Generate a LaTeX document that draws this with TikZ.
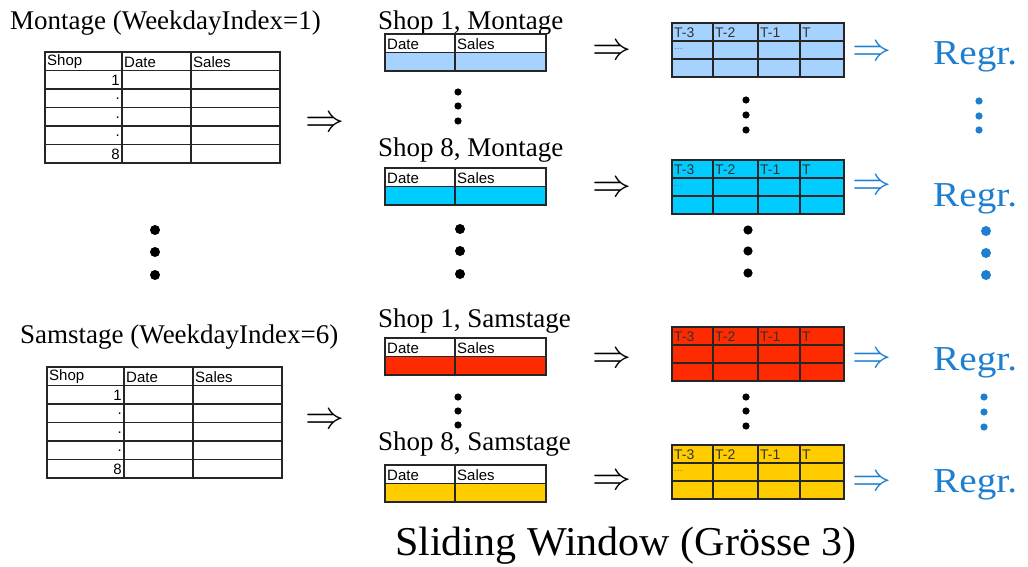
\documentclass[tikz,border=0pt]{standalone}
\usepackage{fontspec}
\setmainfont{Liberation Serif}
\setsansfont{Liberation Sans}
\definecolor{lblue}{HTML}{A6D2FF}
\definecolor{cyanb}{HTML}{00CCFF}
\definecolor{redb}{HTML}{FF2B00}
\definecolor{yelb}{HTML}{FFCC00}
\definecolor{regr}{HTML}{1E7FD0}
\definecolor{hdrtxt}{HTML}{333333}
\tikzset{
  grid/.style={line width=1.4pt, draw=black!85},
  title/.style={anchor=base west, inner sep=0pt, font=\fontsize{27}{30}\selectfont},
  regrtxt/.style={anchor=base west, inner sep=0pt, text=regr, xscale=1.12, font=\fontsize{35}{38}\selectfont},
  cell/.style={anchor=west, inner sep=0pt, font=\sffamily\fontsize{15}{17}\selectfont},
  rcell/.style={anchor=west, inner sep=0pt, text=hdrtxt, font=\sffamily\fontsize{14}{15}\selectfont},
  num/.style={anchor=east, inner sep=0pt, font=\sffamily\fontsize{15}{17}\selectfont},
  bigarrow/.style={inner sep=0pt, scale=3.9, font=\normalsize},
}
% left table: x0 y0 name
\newcommand{\lefttab}[3]{%
  \begin{scope}[shift={(#1,#2)}]
    \draw[grid] (0,0) rectangle (235,111);
    \foreach \yy in {18.5,37,55.5,74,92.5} \draw[grid] (0,\yy) -- (235,\yy);
    \draw[grid] (77,0) -- (77,111);
    \draw[grid] (146,0) -- (146,111);
    \node[cell] (#3h1) at (2,10) {Shop};
    \node[cell] (#3h2) at (79,10) {Date};
    \node[cell] (#3h3) at (148,10) {Sales};
    \node[num] (#3r1) at (75,28.5) {1};
    \node[num] (#3r2) at (75,47) {.};
    \node[num] (#3r3) at (75,65.5) {.};
    \node[num] (#3r4) at (75,84) {.};
    \node[num] (#3r5) at (75,102.5) {8};
  \end{scope}}
% middle table: y0 colour name
\newcommand{\midtab}[3]{%
  \begin{scope}[shift={(385,#1)}]
    \fill[#2] (0,18.5) rectangle (161,37);
    \draw[grid] (0,0) rectangle (161,37);
    \draw[grid] (0,18.5) -- (161,18.5);
    \draw[grid] (70,0) -- (70,37);
    \node[cell] (#3a) at (2,10) {Date};
    \node[cell] (#3b) at (72,10) {Sales};
  \end{scope}}
% right table: y0 colour name
\newcommand{\righttab}[3]{%
  \begin{scope}[shift={(672,#1)}]
    \fill[#2] (0,0) rectangle (172,54);
    \draw[grid] (0,0) rectangle (172,54);
    \draw[grid] (0,18) -- (172,18);
    \draw[grid] (0,36) -- (172,36);
    \foreach \xx in {41,86,128} \draw[grid] (\xx,0) -- (\xx,54);
    \node[rcell] (#3a) at (2,10) {T-3};
    \node[rcell] (#3b) at (43,10) {T-2};
    \node[rcell] (#3c) at (88,10) {T-1};
    \node[rcell] (#3d) at (130,10) {T};
    \node[rcell, text=black!55, font=\sffamily\fontsize{10}{12}\selectfont] (#3e) at (2,26) {...};
  \end{scope}}
\newcommand{\threedots}[5]{% x y1 y2 y3 radius, colour via scope
  \fill (#1,#2) circle (#5);
  \fill (#1,#3) circle (#5);
  \fill (#1,#4) circle (#5);}
\begin{document}
\begin{tikzpicture}[x=1pt,y=-1pt]
\useasboundingbox (0,0) rectangle (1028,567);
\fill[white] (0,0) rectangle (1028,567);

% titles
\node[title] (t1) at (10,30) {Montage (WeekdayIndex=1)};
\node[title] (t2) at (20,343) {Samstage (WeekdayIndex=6)};
\node[title] (s1) at (378,30) {Shop 1, Montage};
\node[title] (s2) at (378,157) {Shop 8, Montage};
\node[title] (s3) at (378,327) {Shop 1, Samstage};
\node[title] (s4) at (378,450) {Shop 8, Samstage};
\node[anchor=base west, inner sep=0pt, xscale=1.025, font=\fontsize{41}{44}\selectfont] (sw) at (395,555) {Sliding Window (Grösse 3)};

% left tables
\lefttab{45}{52}{L1}
\lefttab{47}{367}{L2}

% middle tables
\midtab{34}{lblue}{M1}
\midtab{168}{cyanb}{M2}
\midtab{338}{redb}{M3}
\midtab{465}{yelb}{M4}

% right tables
\righttab{23}{lblue}{R1}
\righttab{160}{cyanb}{R2}
\righttab{327}{redb}{R3}
\righttab{445}{yelb}{R4}

% arrows
\node[bigarrow] (a1) at (325,124) {$\Rightarrow$};
\node[bigarrow] (a2) at (325,421) {$\Rightarrow$};
\node[bigarrow] (b1) at (612,52) {$\Rightarrow$};
\node[bigarrow] (b2) at (612,189) {$\Rightarrow$};
\node[bigarrow] (b3) at (612,360) {$\Rightarrow$};
\node[bigarrow] (b4) at (612,482) {$\Rightarrow$};
\node[bigarrow, text=regr] (c1) at (872,53) {$\Rightarrow$};
\node[bigarrow, text=regr] (c2) at (872,187) {$\Rightarrow$};
\node[bigarrow, text=regr] (c3) at (872,360) {$\Rightarrow$};
\node[bigarrow, text=regr] (c4) at (872,483) {$\Rightarrow$};

% Regr.
\node[regrtxt] (g1) at (933,65) {Regr.};
\node[regrtxt] (g2) at (933,206) {Regr.};
\node[regrtxt] (g3) at (933,370) {Regr.};
\node[regrtxt] (g4) at (933,492) {Regr.};

% dots
\threedots{155}{230}{252}{275}{5}
\threedots{458}{92}{106}{121}{3.6}
\threedots{460}{229}{251}{274}{5}
\threedots{458}{397}{411}{425}{3.6}
\threedots{746}{100}{115}{130}{3.6}
\threedots{748}{230}{251}{273}{4.6}
\threedots{746}{397}{411}{426}{3.6}
\begin{scope}[regr]
\threedots{979}{101}{116}{130}{3.6}
\threedots{986}{231}{253}{275}{5}
\threedots{984}{397}{412}{427}{3.6}
\end{scope}
\end{tikzpicture}
\end{document}
